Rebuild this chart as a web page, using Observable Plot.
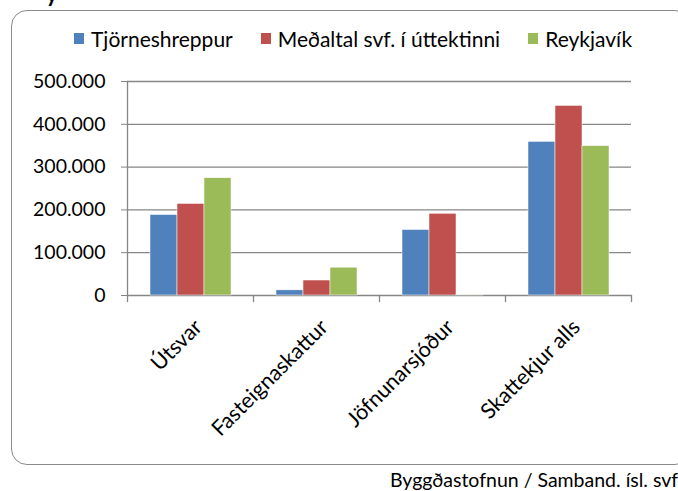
<!DOCTYPE html>
<html>
<head>
<meta charset="utf-8">
<script src="https://cdn.jsdelivr.net/npm/d3@7"></script>
<script src="https://cdn.jsdelivr.net/npm/@observablehq/plot@0.6"></script>
<style>
  html, body { margin: 0; padding: 0; background: #fff; }
  body { width: 678px; height: 491px; overflow: hidden; position: relative; font-family: Lato, "Open Sans", sans-serif; color: #000; }
  #titlefrag { position: absolute; left: 46px; top: -17px; font-size: 22px; font-weight: bold; line-height: 22px; }
  #frame { position: absolute; left: 11px; top: 10px; width: 680px; height: 455px; border: 1.5px solid #8a8a8a; border-radius: 16px; box-sizing: border-box; }
  #chart { position: absolute; left: 0; top: 0; }
  #legend { position: absolute; left: 74px; top: 26px; display: flex; align-items: center; font-size: 21px; white-space: nowrap; }
  .item { display: flex; align-items: center; margin-right: 28px; }
  .sw { width: 10px; height: 11px; margin-right: 7px; }
  #caption { position: absolute; left: 390px; top: 468px; font-size: 19.5px; white-space: nowrap; }
</style>
</head>
<body>
<div id="titlefrag">y</div>
<div id="frame"></div>
<div id="chart"></div>
<div id="legend"></div>
<div id="caption">Byggðastofnun / Samband. ísl. svf</div>
<script>
const categories = ["Útsvar", "Fasteignaskattur", "Jöfnunarsjóður", "Skattekjur alls"];
const series = ["Tjörneshreppur", "Meðaltal svf. í úttektinni", "Reykjavík"];
const tjorneshreppur = [188000, 12000, 153000, 359000];
const medaltal = [214000, 35000, 191000, 443000];
const reykjavik = [274000, 65000, 1500, 349000];
const colors = ["#4F81BD", "#C0504D", "#9BBB59"];
const yTicks = [0, 100000, 200000, 300000, 400000, 500000];
const yTickLabels = ["0", "100.000", "200.000", "300.000", "400.000", "500.000"];

const seriesValues = [tjorneshreppur, medaltal, reykjavik];
const data = categories.flatMap((c, i) =>
  series.map((s, j) => ({category: c, series: s, value: seriesValues[j][i]}))
);

const gray = "#868686";
const plot = Plot.plot({
  width: 678,
  height: 491,
  marginLeft: 126,
  marginRight: 46,
  marginTop: 81,
  marginBottom: 196,
  style: {fontFamily: "Lato, 'Open Sans', sans-serif", fontSize: "19.5px", color: "#000", background: "transparent"},
  fx: {domain: categories, paddingInner: 0, paddingOuter: 0, label: null},
  x: {domain: series, paddingInner: 0, paddingOuter: 0.76, axis: null},
  y: {domain: [0, 500000], label: null},
  color: {domain: series, range: colors},
  marks: [
    Plot.gridY(yTicks, {stroke: gray, strokeOpacity: 1, strokeWidth: 1.3}),
    Plot.barY(data, {fx: "category", x: "series", y: "value", fill: "series", stroke: "#fff", strokeWidth: 0.5}),
    Plot.axisY(yTicks, {tickFormat: d => yTickLabels[yTicks.indexOf(d)], tickSize: 6, tickPadding: 16, stroke: gray, strokeOpacity: 1, label: null}),
    Plot.axisFx({anchor: "bottom", tickRotate: -45, tickSize: 0, tickPadding: 28, dx: 8, fontSize: 21.5, label: null}),
    Plot.frame({anchor: "left", facet: "super", insetBottom: -6, stroke: gray, strokeOpacity: 1, strokeWidth: 1.3}),
    Plot.frame({anchor: "right", insetTop: 214, insetBottom: -6, stroke: gray, strokeOpacity: 1, strokeWidth: 1.3})
  ]
});
document.getElementById("chart").appendChild(plot);

const legend = document.getElementById("legend");
series.forEach((s, i) => {
  const item = document.createElement("div");
  item.className = "item";
  const sw = document.createElement("span");
  sw.className = "sw";
  sw.style.background = colors[i];
  const t = document.createElement("span");
  t.textContent = s;
  item.appendChild(sw);
  item.appendChild(t);
  legend.appendChild(item);
});
</script>
</body>
</html>
